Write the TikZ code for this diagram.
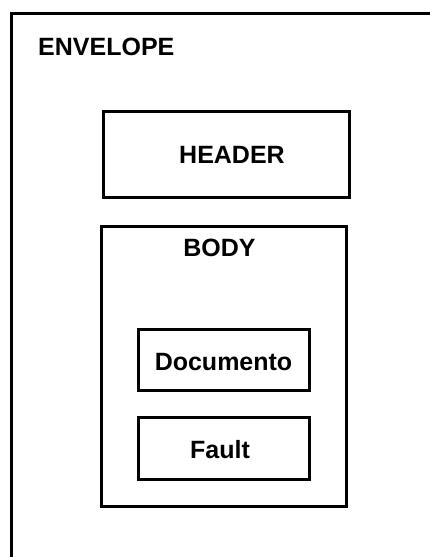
\documentclass[tikz,border=0pt]{standalone}
\usepackage{fontspec}
\setmainfont{Liberation Sans}
\begin{document}
\begin{tikzpicture}[x=1pt,y=-1pt,
  frame/.style={draw=black, line width=3pt, inner sep=0pt, fill=none},
  caption/.style={font=\fontsize{25}{29}\selectfont\bfseries, inner sep=0pt}]
  \useasboundingbox[fill=white] (0,0) rectangle (430,557);
  % envelope: only its top and left sides fall inside the page
  \coordinate (envTL) at (11.5,13.5);
  \coordinate (envTR) at (432,13.5);
  \coordinate (envBL) at (11.5,560);
  \draw[line width=3pt] (envBL) -- (envTL) -- (envTR);
  \node[caption, anchor=west] (envtext) at (38,47) {ENVELOPE};
  % header block
  \node[frame, minimum width=246pt, minimum height=86pt] (header) at (226.5,154.5) {};
  \node[caption] (headertext) at (232,155) {HEADER};
  % body block with its two parts
  \node[frame, minimum width=245pt, minimum height=280pt] (body) at (224,366.5) {};
  \node[caption] (bodytext) at (219.5,248) {BODY};
  \node[frame, minimum width=171pt, minimum height=61pt] (doc) at (224,360) {};
  \node[caption] (doctext) at (223.5,362) {Documento};
  \node[frame, minimum width=171pt, minimum height=62pt] (fault) at (224,448.5) {};
  \node[caption] (faulttext) at (220,450) {Fault};
\end{tikzpicture}
\end{document}
